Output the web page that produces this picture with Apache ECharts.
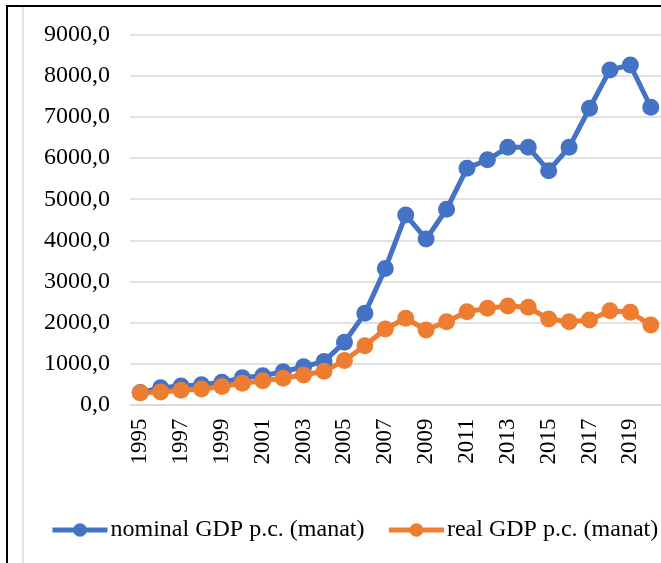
<!DOCTYPE html>
<html>
<head>
<meta charset="utf-8">
<script src="https://cdn.jsdelivr.net/npm/echarts@6/dist/echarts.min.js"></script>
<style>
html,body{margin:0;padding:0;background:#fff;}
#chart{width:661px;height:563px;}
</style>
</head>
<body>
<div id="chart"></div>
<script>
const years = ['1995','1996','1997','1998','1999','2000','2001','2002','2003','2004','2005','2006','2007','2008','2009','2010','2011','2012','2013','2014','2015','2016','2017','2018','2019','2020'];
const nominalGDP = [290, 410, 450, 480, 540, 650, 700, 800, 920, 1050, 1515, 2220, 3310, 4616, 4030, 4755, 5754, 5960, 6265, 6265, 5696, 6265, 7215, 8149, 8270, 7240];
const realGDP = [288, 305, 345, 380, 440, 516, 576, 638, 720, 810, 1070, 1430, 1839, 2100, 1815, 2017, 2261, 2343, 2400, 2368, 2083, 2017, 2058, 2285, 2246, 1937];
const seriesNames = ['nominal GDP p.c. (manat)', 'real GDP p.c. (manat)'];
const yMin = 0, yMax = 9000, yStep = 1000;

const FONT = "'Times New Roman', 'Liberation Serif', serif";
const chart = echarts.init(document.getElementById('chart'));
chart.setOption({
  animation: false,
  backgroundColor: '#fff',
  color: ['#4472C4', '#ED7D31'],
  grid: { left: 130, right: 0, top: 35, bottom: 158.5, containLabel: false },
  xAxis: {
    type: 'category',
    data: years,
    boundaryGap: true,
    axisLine: { show: true, lineStyle: { color: '#d9d9d9', width: 1.5 } },
    axisTick: { show: false },
    axisLabel: { interval: 1, rotate: 90, margin: 14, color: '#000', fontFamily: FONT, fontSize: 23 }
  },
  yAxis: {
    type: 'value',
    min: yMin, max: yMax, interval: yStep,
    axisLine: { show: false },
    axisTick: { show: false },
    splitLine: { lineStyle: { color: '#d9d9d9', width: 1.5 } },
    axisLabel: {
      margin: 20, color: '#000', fontFamily: FONT, fontSize: 24,
      formatter: v => v.toFixed(1).replace('.', ',')
    }
  },
  legend: {
    left: 50, top: 518, width: 620, padding: 0,
    itemWidth: 55, itemHeight: 17, itemGap: 22,
    lineStyle: { width: 5 },
    textStyle: { color: '#000', fontFamily: FONT, fontSize: 24, padding: [0, 0, 0, -2] },
    data: seriesNames
  },
  series: [
    { name: seriesNames[0], type: 'line', data: nominalGDP, symbol: 'circle', symbolSize: 17, showAllSymbol: true, lineStyle: { width: 5 } },
    { name: seriesNames[1], type: 'line', data: realGDP, symbol: 'circle', symbolSize: 17, showAllSymbol: true, lineStyle: { width: 5 } }
  ],
  graphic: [
    { type: 'line', shape: { x1: 23, y1: 6, x2: 23, y2: 563 }, style: { stroke: '#d9d9d9', lineWidth: 1.5 }, silent: true },
    { type: 'line', shape: { x1: 6, y1: 6, x2: 661, y2: 6 }, style: { stroke: '#000', lineWidth: 2 }, silent: true },
    { type: 'line', shape: { x1: 7, y1: 5, x2: 7, y2: 563 }, style: { stroke: '#000', lineWidth: 2 }, silent: true }
  ]
});
</script>
</body>
</html>
